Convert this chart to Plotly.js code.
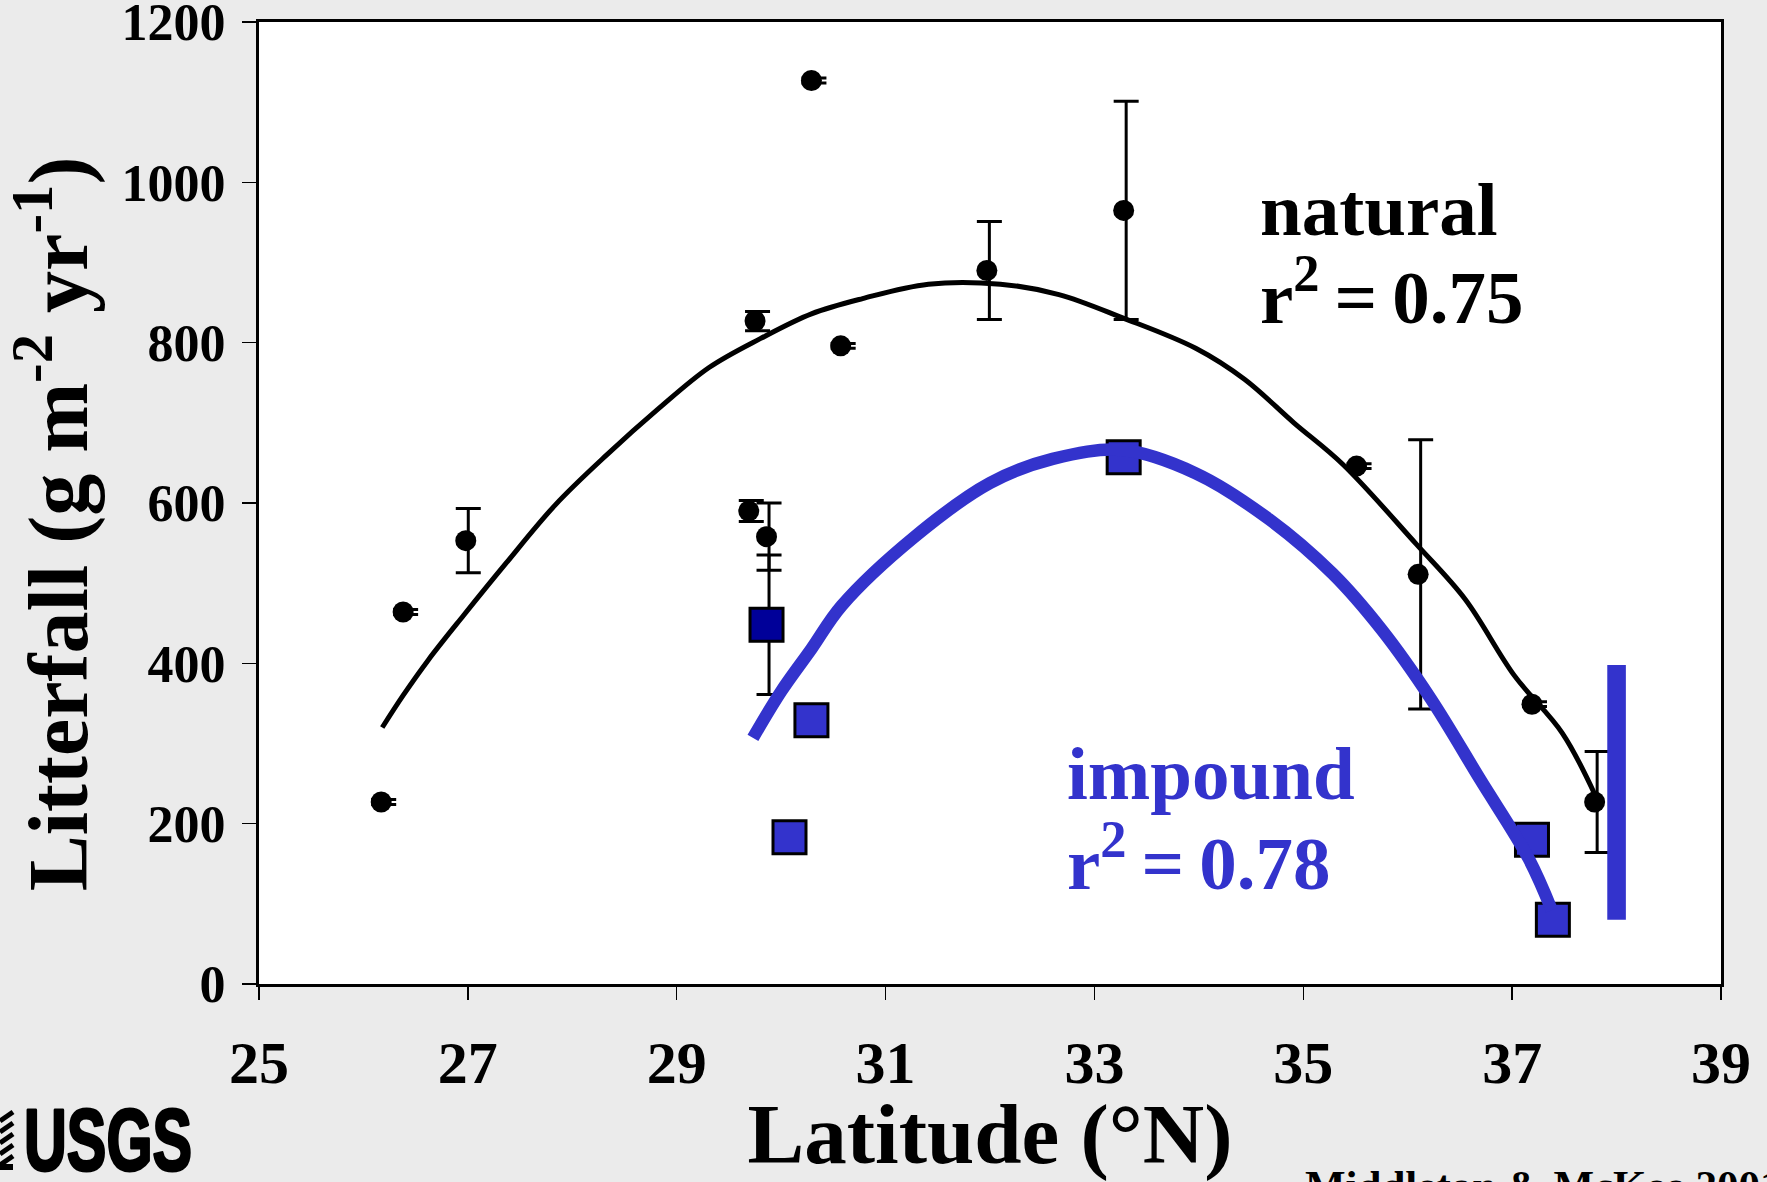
<!DOCTYPE html>
<html>
<head>
<meta charset="utf-8">
<script src="https://cdn.plot.ly/plotly-3.0.1.min.js"></script>
<style>
  html, body { margin: 0; padding: 0; background: #ebebeb; }
  #chart { width: 1767px; height: 1182px; }
</style>
</head>
<body>
<div id="chart"></div>
<script>
// ---------------- data ----------------
// natural sites: latitude (°N), litterfall (g m-2 yr-1), error (±)
const natLat = [26.17, 26.38, 26.98, 29.69, 29.75, 29.86, 30.29, 30.57, 31.97, 33.28, 35.51, 36.10, 37.19, 37.79];
const natVal = [227, 464, 553, 590, 827, 558, 1127, 796, 890, 965, 646, 511, 349, 227];
const natErr = [3, 3, 40, 13, 12, 42, 3, 3, 61, 136, 3, 168, 3, 63];

// impounded sites
const impLat = [30.08, 30.29, 33.28, 37.19, 37.39];
const impVal = [183, 329, 657, 180, 80];
// impounded site with error bar (dark square)
const impErrLat = [29.86];
const impErrVal = [448];
const impErrErr = [87];

// fitted curves
const natFitLat = [26.18, 26.38, 26.62, 26.96, 27.36, 27.84, 28.33, 28.82, 29.31, 29.80, 30.29, 30.78, 31.41, 32.10, 32.66, 33.27, 33.97, 34.44, 34.91, 35.38, 36.08, 36.55, 37.02, 37.48, 37.79];
const natFitVal = [320, 360, 404, 460, 524, 598, 660, 717, 769, 805, 836, 855, 873, 873, 860, 831, 793, 754, 700, 648, 549, 480, 385, 313, 237];

const impFitLat = [29.73, 30.00, 30.29, 30.58, 31.27, 32.00, 32.60, 33.27, 33.97, 34.67, 35.28, 35.75, 36.22, 36.69, 37.16, 37.38];
const impFitVal = [307, 365, 418, 472, 557, 625, 655, 666, 637, 580, 512, 442, 356, 256, 156, 92];

// vertical range bar (impounded range) at right
const impRangeLat = [38.0, 38.0];
const impRangeVal = [80, 398];

// axis ticks
const xTicks = [25, 27, 29, 31, 33, 35, 37, 39];
const yTicks = [0, 200, 400, 600, 800, 1000, 1200];

// ---------------- styles ----------------
const SERIF = 'Liberation Serif, Times New Roman, serif';
const BLUE = '#3333cc';
const NAVY = '#000099';
const ERR_SHIFT = 0.024; // error bars sit ~2.5 px right of markers

const traces = [
  // error bars (underlying axis, slightly shifted)
  { type: 'scatter', mode: 'markers', x: natLat, y: natVal, xaxis: 'x', yaxis: 'y',
    marker: { size: 1, color: 'rgba(0,0,0,0)' },
    error_y: { type: 'data', array: natErr, visible: true, color: 'black', thickness: 3, width: 12.5 },
    hoverinfo: 'skip', showlegend: false },
  { type: 'scatter', mode: 'markers', x: impErrLat, y: impErrVal, xaxis: 'x', yaxis: 'y',
    marker: { size: 1, color: 'rgba(0,0,0,0)' },
    error_y: { type: 'data', array: impErrErr, visible: true, color: 'black', thickness: 3, width: 12.5 },
    hoverinfo: 'skip', showlegend: false },
  // natural points
  { type: 'scatter', mode: 'markers', name: 'natural', x: natLat, y: natVal, xaxis: 'x2', yaxis: 'y',
    marker: { symbol: 'circle', size: 21, color: 'black' } },
  // impounded points
  { type: 'scatter', mode: 'markers', name: 'impound (±)', x: impErrLat, y: impErrVal, xaxis: 'x2', yaxis: 'y',
    marker: { symbol: 'square', size: 33, color: NAVY, line: { color: 'black', width: 3 } } },
  { type: 'scatter', mode: 'markers', name: 'impound', x: impLat, y: impVal, xaxis: 'x2', yaxis: 'y',
    marker: { symbol: 'square', size: 33, color: BLUE, line: { color: 'black', width: 3 } } },
  // fits
  { type: 'scatter', mode: 'lines', name: 'natural fit', x: natFitLat, y: natFitVal, xaxis: 'x2', yaxis: 'y',
    line: { color: 'black', width: 5, shape: 'spline', smoothing: 1 } },
  { type: 'scatter', mode: 'lines', name: 'impound fit', x: impFitLat, y: impFitVal, xaxis: 'x2', yaxis: 'y',
    line: { color: BLUE, width: 12.5, shape: 'spline', smoothing: 1 } },
  // range bar
  { type: 'scatter', mode: 'lines', name: 'impound range', x: impRangeLat, y: impRangeVal, xaxis: 'x2', yaxis: 'y',
    line: { color: BLUE, width: 18.6 } }
];

const L = 259, R = 46, T = 22, B = 198;
const W = 1767, H = 1182;
const pw = W - L - R, ph = H - T - B;
const px = v => (v - L) / pw;
const py = v => (H - B - v) / ph;

// small stripes of the USGS emblem (left of the wordmark)
const stripeShapes = [1112, 1123, 1134, 1145, 1156].map(function (yTop) {
  return { type: 'line', xref: 'paper', yref: 'paper', layer: 'above',
    x0: px(0), y0: py(yTop + 9), x1: px(13), y1: py(yTop),
    line: { color: 'black', width: 5 } };
});
stripeShapes.push({ type: 'line', xref: 'paper', yref: 'paper', layer: 'above',
  x0: px(0), y0: py(1167), x1: px(13), y1: py(1167), line: { color: 'black', width: 6 } });

const layout = {
  width: W, height: H,
  margin: { l: L, r: R, t: T, b: B, pad: 0 },
  paper_bgcolor: '#ebebeb',
  plot_bgcolor: '#ffffff',
  showlegend: false,
  font: { family: SERIF, color: 'black' },
  xaxis: { range: [25 - ERR_SHIFT, 39 - ERR_SHIFT], visible: false, fixedrange: true },
  xaxis2: {
    overlaying: 'x', side: 'bottom', range: [25, 39],
    tickmode: 'array', tickvals: xTicks, ticktext: xTicks.map(String),
    showline: true, mirror: true, linecolor: 'black', linewidth: 3,
    ticks: 'outside', ticklen: 13, tickwidth: 1.5, tickcolor: 'black',
    showgrid: false, zeroline: false,
    tickfont: { family: SERIF, size: 60, weight: 'bold', color: 'black' },
    ticklabelstandoff: 11, ticklabeloverflow: 'allow',
    title: { text: 'Latitude (°N)', font: { family: SERIF, size: 85, weight: 'bold', color: 'black' }, standoff: 41 }
  },
  yaxis: {
    range: [0, 1200],
    tickmode: 'array', tickvals: yTicks, ticktext: yTicks.map(String),
    showline: true, mirror: true, linecolor: 'black', linewidth: 3,
    ticks: 'outside', ticklen: 14, tickwidth: 1.5, tickcolor: 'black',
    showgrid: false, zeroline: false,
    tickfont: { family: SERIF, size: 52, weight: 'bold', color: 'black' },
    ticklabelstandoff: 6, ticklabeloverflow: 'allow',
    title: { text: 'Litterfall (g m<sup>-2</sup> yr<sup>-1</sup>)\u00a0\u00a0\u200b', font: { family: SERIF, size: 84, weight: 'bold', color: 'black' }, standoff: 18 }
  },
  shapes: stripeShapes,
  annotations: [
    { xref: 'paper', yref: 'paper', x: px(1258), y: py(209), xanchor: 'left', yanchor: 'middle', showarrow: false,
      text: 'natural', font: { family: SERIF, size: 75, weight: 'bold', color: 'black' } },
    { xref: 'paper', yref: 'paper', x: px(1258), y: py(291), xanchor: 'left', yanchor: 'middle', showarrow: false,
      text: 'r<sup>2</sup>\u2009=\u20090.75', font: { family: SERIF, size: 75, weight: 'bold', color: 'black' } },
    { xref: 'paper', yref: 'paper', x: px(1065), y: py(773), xanchor: 'left', yanchor: 'middle', showarrow: false,
      text: 'impound', font: { family: SERIF, size: 75, weight: 'bold', color: BLUE } },
    { xref: 'paper', yref: 'paper', x: px(1065), y: py(857), xanchor: 'left', yanchor: 'middle', showarrow: false,
      text: 'r<sup>2</sup>\u2009=\u20090.78', font: { family: SERIF, size: 75, weight: 'bold', color: BLUE } },
    { xref: 'paper', yref: 'paper', x: px(22), y: py(1139), xanchor: 'left', yanchor: 'middle', showarrow: false,
      text: 'USGS', font: { family: 'Liberation Sans, Arial, sans-serif', size: 88, weight: 'bold', color: 'black' } },
    { xref: 'paper', yref: 'paper', x: px(1303), y: py(1160), xanchor: 'left', yanchor: 'top', showarrow: false,
      text: 'Middleton & McKee 2001', font: { family: SERIF, size: 43, weight: 'bold', color: 'black' } }
  ]
};

Plotly.newPlot('chart', traces, layout, { staticPlot: true, displayModeBar: false }).then(function () {
  // condense and embolden the USGS wordmark to its logo width
  document.querySelectorAll('.annotation-text').forEach(function (t) {
    if (t.textContent === 'USGS') {
      t.style.stroke = 'black';
      t.style.strokeWidth = '3px';
      t.style.strokeLinejoin = 'round';
      const w = t.getBBox().width;
      const s = 168 / w;
      t.style.transformBox = 'fill-box';
      t.style.transformOrigin = '0% 50%';
      t.style.transform = 'scaleX(' + s.toFixed(3) + ')';
    }
  });
});
</script>
</body>
</html>
